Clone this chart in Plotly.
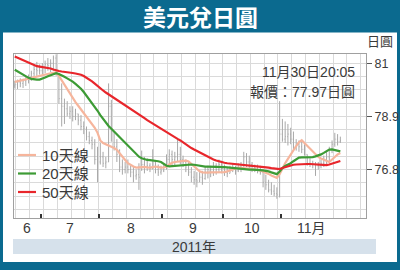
import pandas as pd
import plotly.graph_objects as go

# ---------------- data ----------------
dates = pd.bdate_range("2011-06-17", "2011-11-30")  # trading days

high = [80.30, 80.35, 80.40, 80.38, 80.45, 80.55,
        80.70, 80.90, 81.05, 80.95,
        81.00, 81.10, 81.20, 81.15, 81.30, 81.35,
        80.60, 80.20, 79.60, 79.50, 79.30,
        79.30, 79.20, 79.00, 78.95, 78.70,
        78.50, 78.30, 78.10, 78.00, 77.70,
        77.85, 77.50, 77.30, 80.20, 79.55,
        78.30, 78.00, 77.60, 77.20, 77.10,
        77.20, 76.95, 76.90, 76.80, 77.05,
        77.55, 77.30, 77.25, 77.05, 77.60,
        77.10, 77.00, 76.95,
        77.05, 77.40, 77.60, 77.55, 77.50,
        78.00, 77.70, 77.35, 77.20, 77.10,
        76.90, 76.75, 76.70, 76.70, 76.75,
        76.90, 76.95, 76.95, 77.10, 77.05,
        77.20, 77.15,
        77.00, 76.90, 76.95, 77.00, 76.95,
        77.05, 77.10, 77.50, 77.45, 77.35,
        77.10, 77.00, 77.00, 76.95, 76.80,
        76.60, 76.40, 76.30, 76.20, 76.10,
        79.50,
        78.80, 78.70, 78.60, 78.45, 78.30,
        78.00, 77.95, 77.95, 77.80, 77.40,
        77.25, 77.15, 77.10, 77.10, 77.20,
        77.35, 77.50, 77.70, 77.95, 78.25,
        78.20, 78.10]

low = [80.00, 79.98, 80.05, 80.02, 80.10, 80.20,
       80.30, 80.40, 80.50, 80.55,
       80.55, 80.60, 80.70, 80.65, 80.70, 80.50,
       79.40, 78.50, 78.60, 78.90, 78.80,
       78.70, 78.75, 78.55, 78.35, 78.20,
       77.95, 77.80, 77.60, 77.00, 76.30,
       77.00, 76.90, 76.85, 77.10, 77.90,
       77.55, 77.10, 76.70, 76.60, 76.65,
       76.65, 76.50, 76.30, 76.40, 76.00,
       76.75, 76.65, 76.75, 76.70, 76.80,
       76.65, 76.55, 76.60,
       76.70, 76.80, 77.00, 76.95, 76.90,
       77.10, 77.00, 76.90, 76.70, 76.55,
       76.30, 76.20, 76.10, 76.30, 76.20,
       76.40, 76.45, 76.50, 76.55, 76.60,
       76.70, 76.65,
       76.55, 76.50, 76.65, 76.70, 76.60,
       76.70, 76.70, 76.85, 76.90, 76.80,
       76.70, 76.70, 76.65, 76.60, 76.10,
       76.00, 75.90, 75.80, 75.75, 75.65,
       75.70,
       77.90, 77.85, 77.75, 77.80, 77.60,
       77.55, 77.50, 77.45, 77.35, 76.95,
       76.90, 76.85, 76.55, 76.80, 76.85,
       76.90, 76.95, 77.10, 77.45, 77.70,
       77.75, 77.85]

close = [80.15, 80.25, 80.20, 80.30, 80.35, 80.45,
         80.60, 80.75, 80.70, 80.70,
         80.85, 80.95, 80.90, 81.00, 81.20, 80.60,
         79.60, 79.30, 79.20, 79.00, 79.10,
         78.90, 79.00, 78.75, 78.50, 78.40,
         78.10, 77.95, 77.80, 77.20, 76.80,
         77.30, 77.05, 77.10, 79.30, 78.30,
         77.70, 77.40, 76.90, 76.80, 76.90,
         76.80, 76.70, 76.55, 76.60, 76.50,
         77.00, 76.90, 76.95, 76.85, 77.30,
         76.80, 76.70, 76.75,
         76.90, 77.20, 77.40, 77.20, 77.30,
         77.40, 77.20, 77.10, 76.90, 76.70,
         76.50, 76.40, 76.35, 76.50, 76.45,
         76.70, 76.80, 76.70, 76.95, 76.80,
         77.00, 76.85,
         76.70, 76.65, 76.80, 76.85, 76.75,
         76.90, 77.00, 77.30, 77.10, 77.00,
         76.85, 76.85, 76.80, 76.70, 76.30,
         76.20, 76.00, 75.95, 75.85, 75.80,
         78.20,
         78.00, 78.10, 78.20, 78.00, 77.70,
         77.80, 77.70, 77.60, 77.40, 77.05,
         77.00, 77.00, 76.95, 76.95, 77.05,
         77.20, 77.30, 77.60, 77.80, 78.00,
         77.90, 77.95]

open_ = [80.10, 80.15, 80.25, 80.20, 80.30, 80.35,
         80.45, 80.60, 80.75, 80.70,
         80.70, 80.85, 80.95, 80.90, 81.00, 81.20,
         80.50, 79.60, 79.30, 79.20, 79.00,
         79.10, 78.90, 79.00, 78.75, 78.50,
         78.40, 78.10, 77.95, 77.80, 77.20,
         77.10, 77.30, 77.05, 77.10, 79.30,
         78.30, 77.70, 77.40, 76.90, 76.80,
         76.90, 76.80, 76.70, 76.55, 76.60,
         76.80, 77.00, 76.90, 76.95, 76.85,
         77.10, 76.80, 76.70,
         76.75, 76.90, 77.20, 77.40, 77.20,
         77.30, 77.40, 77.20, 77.10, 76.90,
         76.70, 76.50, 76.40, 76.35, 76.50,
         76.45, 76.70, 76.80, 76.70, 76.95,
         76.80, 77.00,
         76.85, 76.70, 76.65, 76.80, 76.85,
         76.75, 76.90, 77.00, 77.30, 77.10,
         77.00, 76.85, 76.85, 76.80, 76.70,
         76.30, 76.20, 76.00, 75.95, 75.85,
         75.80,
         78.20, 78.00, 78.10, 78.20, 78.00,
         77.70, 77.80, 77.70, 77.60, 77.40,
         77.05, 77.00, 77.00, 76.95, 76.95,
         77.05, 77.20, 77.30, 77.60, 77.80,
         78.00, 77.90]

ma10 = [80.26, 80.28, 80.30, 80.33, 80.36, 80.39, 80.42, 80.45, 80.47, 80.49,
        80.51, 80.54, 80.57, 80.60, 80.62, 80.63, 80.50, 80.32, 80.15, 79.98,
        79.80, 79.63, 79.46, 79.32, 79.18, 79.04, 78.90, 78.76, 78.61, 78.45,
        78.25, 77.95, 77.85, 77.80, 77.78, 77.72, 77.65, 77.58, 77.46, 77.32,
        77.18, 77.05, 76.97, 76.92, 76.88, 76.89, 76.92, 76.91, 76.89, 76.88,
        76.90, 76.92, 76.90, 76.88, 76.89, 76.92, 77.00, 77.07, 77.10, 77.11,
        77.12, 77.14, 77.15, 77.12, 77.02, 76.90, 76.80, 76.73, 76.69, 76.68,
        76.68, 76.69, 76.69, 76.68, 76.68, 76.69, 76.70, 76.73, 76.76, 76.80,
        76.85, 76.88, 76.87, 76.85, 76.84, 76.83, 76.82, 76.81, 76.79, 76.76,
        76.72, 76.69, 76.63, 76.57, 76.51, 76.47, 76.62, 76.86, 77.05, 77.22,
        77.40, 77.57, 77.73, 77.88, 77.96, 77.85, 77.74, 77.65, 77.53, 77.42,
        77.30, 77.24, 77.19, 77.13, 77.10, 77.20, 77.30, 77.40, 77.45]

ma20 = [80.74, 80.67, 80.60, 80.54, 80.48, 80.42, 80.38, 80.36, 80.35, 80.35,
        80.38, 80.43, 80.48, 80.53, 80.57, 80.60, 80.57, 80.50, 80.46, 80.40,
        80.34, 80.27, 80.18, 80.09, 79.99, 79.86, 79.72, 79.58, 79.44, 79.29,
        79.12, 78.95, 78.80, 78.65, 78.52, 78.41, 78.30, 78.19, 78.08, 77.97,
        77.86, 77.74, 77.63, 77.52, 77.41, 77.31, 77.25, 77.21, 77.18, 77.17,
        77.16, 77.15, 77.13, 77.10, 77.03, 76.95, 76.93, 76.94, 76.96, 76.97,
        76.98, 76.99, 77.00, 77.00, 77.00, 76.99, 76.97, 76.95, 76.93, 76.92,
        76.92, 76.92, 76.92, 76.92, 76.91, 76.90, 76.90, 76.89, 76.88, 76.86,
        76.84, 76.82, 76.81, 76.80, 76.80, 76.80, 76.80, 76.80, 76.79, 76.78,
        76.77, 76.76, 76.73, 76.69, 76.65, 76.62, 76.72, 76.86, 76.94, 76.99,
        77.05, 77.13, 77.21, 77.27, 77.28, 77.28, 77.28, 77.27, 77.29, 77.32,
        77.35, 77.40, 77.46, 77.53, 77.59, 77.60, 77.58, 77.55, 77.52]

ma50 = [81.26, 81.21, 81.16, 81.11, 81.07, 81.02, 80.97, 80.92, 80.88, 80.86,
        80.85, 80.83, 80.82, 80.79, 80.75, 80.71, 80.69, 80.67, 80.66, 80.64,
        80.63, 80.61, 80.59, 80.57, 80.54, 80.49, 80.43, 80.36, 80.28, 80.19,
        80.09, 80.00, 79.92, 79.84, 79.77, 79.70, 79.62, 79.55, 79.48, 79.42,
        79.35, 79.28, 79.21, 79.14, 79.06, 78.98, 78.90, 78.83, 78.75, 78.68,
        78.62, 78.55, 78.49, 78.42, 78.35, 78.27, 78.19, 78.13, 78.07, 78.01,
        77.95, 77.87, 77.79, 77.72, 77.65, 77.59, 77.53, 77.47, 77.41, 77.36,
        77.30, 77.25, 77.20, 77.16, 77.12, 77.09, 77.07, 77.05, 77.04, 77.03,
        77.02, 77.00, 76.99, 76.98, 76.97, 76.96, 76.95, 76.94, 76.93, 76.92,
        76.91, 76.90, 76.88, 76.86, 76.84, 76.82, 76.82, 76.86, 76.90, 76.94,
        76.97, 76.99, 77.00, 77.01, 77.02, 77.02, 77.02, 77.02, 77.01, 77.00,
        76.99, 76.99, 76.98, 76.98, 77.00, 77.04, 77.08, 77.11, 77.14]

month_labels = ["6", "7", "8", "9", "10", "11月"]
y_tick_vals = [76.8, 78.9, 81]
y_tick_text = ["76.8", "78.9", "81"]
legend_names = ["10天線", "20天線", "50天線"]
title_text = "美元兌日圓"
unit_text = "日圓"
year_text = "2011年"
quote_line1 = "11月30日20:05"
quote_line2 = "報價：77.97日圓"

# ---------------- layout helpers ----------------
W, H = 400, 270
ML, MR, MT, MB = 14, 34, 54, 52
PW, PH = W - ML - MR, H - MT - MB


def px(x):
    return (x - ML) / PW


def py(y):
    return (H - MB - y) / PH


TEAL = "#0b6a8f"
GRID = "#dadada"
TXT = "#3a3a3a"
FONT = "Liberation Sans, Noto Sans CJK TC, sans-serif"
c10, c20, c50 = "#f6b59c", "#3d9b35", "#e8262b"

idx = list(range(len(dates)))
months = [d.month for d in dates]
boundaries = [i - 0.5 for i in range(1, len(months)) if months[i] != months[i - 1]]
centers = []
for m in sorted(set(months)):
    ii = [i for i in idx if months[i] == m]
    centers.append(sum(ii) / len(ii))

fig = go.Figure()
fig.add_trace(go.Ohlc(x=idx, open=open_, high=high, low=low, close=close,
                      increasing=dict(line=dict(color="#a8a8a8", width=1)),
                      decreasing=dict(line=dict(color="#a8a8a8", width=1)),
                      tickwidth=0.25, showlegend=False, hoverinfo="skip"))
for vals, col in [(ma10, c10), (ma20, c20), (ma50, c50)]:
    fig.add_trace(go.Scatter(x=idx, y=vals, mode="lines",
                             line=dict(color=col, width=2.2),
                             showlegend=False, hoverinfo="skip"))

shapes = [
    dict(type="rect", xref="paper", yref="paper", layer="below",
         x0=px(3), x1=px(397), y0=py(262), y1=py(32.5),
         fillcolor="white", line=dict(width=0)),
    dict(type="rect", xref="paper", yref="paper", layer="below",
         x0=px(13), x1=px(376), y0=py(254), y1=py(239),
         fillcolor="#d6e1eb", line=dict(width=0)),
]
annotations = [
    dict(text=title_text, x=px(200), y=py(16.5), xref="paper", yref="paper",
         showarrow=False, xanchor="center", yanchor="middle",
         font=dict(family="Noto Sans CJK TC", size=23, color="white", weight="bold")),
    dict(text=unit_text, x=px(380), y=py(42), xref="paper", yref="paper",
         showarrow=False, xanchor="center", yanchor="middle",
         font=dict(family=FONT, size=13, color=TXT)),
    dict(text=year_text, x=px(194), y=py(247), xref="paper", yref="paper",
         showarrow=False, xanchor="center", yanchor="middle",
         font=dict(family=FONT, size=14, color=TXT)),
    dict(text=quote_line1, x=px(357), y=py(71.5), xref="paper", yref="paper",
         showarrow=False, xanchor="right", yanchor="middle",
         font=dict(family=FONT, size=14, color=TXT)),
    dict(text=quote_line2, x=px(357), y=py(91.5), xref="paper", yref="paper",
         showarrow=False, xanchor="right", yanchor="middle",
         font=dict(family=FONT, size=14, color=TXT)),
]
for c, lab in zip(centers, month_labels):
    annotations.append(dict(text=lab, x=c, y=py(228), xref="x", yref="paper",
                            showarrow=False, xanchor="center", yanchor="middle",
                            font=dict(family=FONT, size=14, color=TXT)))

legend_rows = [155, 173.5, 192]
for name, col, ry in zip(legend_names, [c10, c20, c50], legend_rows):
    shapes.append(dict(type="line", xref="paper", yref="paper",
                       x0=px(18), x1=px(36), y0=py(ry), y1=py(ry),
                       line=dict(color=col, width=2.2)))
    annotations.append(dict(text=name, x=px(40), y=py(ry), xref="paper", yref="paper",
                            showarrow=False, xanchor="left", yanchor="middle",
                            font=dict(family=FONT, size=15, color=TXT)))

fig.update_layout(
    width=W, height=H,
    margin=dict(l=ML, r=MR, t=MT, b=MB, pad=0),
    paper_bgcolor=TEAL, plot_bgcolor="white",
    showlegend=False,
    shapes=shapes, annotations=annotations,
    xaxis=dict(range=[-0.28, 127.3], tickmode="array", tickvals=boundaries,
               showticklabels=False, ticks="inside", ticklen=4, tickwidth=1.5,
               tickcolor="#333333", showgrid=False, zeroline=False,
               showline=True, linecolor="#a0a0a0", linewidth=1, mirror=True,
               rangeslider=dict(visible=False), automargin=False,
               minor=dict(tickmode="linear", tick0=100.4, dtick=5, showgrid=True,
                          gridcolor=GRID, gridwidth=1, ticks="")),
    yaxis=dict(range=[74.89, 81.36], side="right", tickmode="array",
               tickvals=y_tick_vals, ticktext=y_tick_text,
               ticks="outside", ticklen=5, tickwidth=1, tickcolor="#555555",
               tickfont=dict(family=FONT, size=12.5, color=TXT),
               showgrid=True, gridcolor=GRID, gridwidth=1, zeroline=False,
               showline=True, linecolor="#a0a0a0", linewidth=1, mirror=True,
               automargin=False,
               minor=dict(tickmode="linear", tick0=76.8, dtick=0.525, showgrid=True,
                          gridcolor=GRID, gridwidth=1, ticks="")),
)

fig.write_html("out.html")
